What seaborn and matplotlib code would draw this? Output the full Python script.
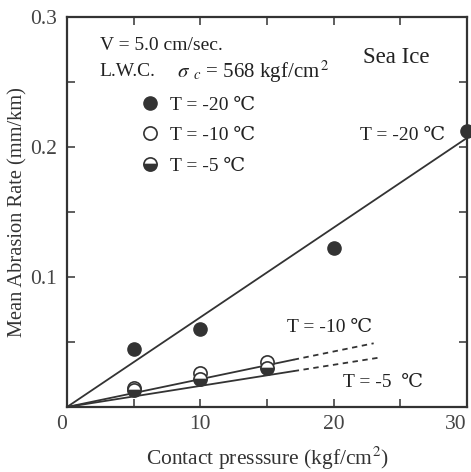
import numpy as np
import pandas as pd
import seaborn as sns
import matplotlib
matplotlib.use("Agg")
import matplotlib.pyplot as plt
from matplotlib.lines import Line2D
from matplotlib.ticker import MultipleLocator

# ---- data ----
p20 = [5, 10, 20, 30]
r20 = [0.045, 0.060, 0.122, 0.212]
p10 = [5, 10, 15]
r10 = [0.015, 0.026, 0.035]
p5 = [5, 10, 15]
r5 = [0.013, 0.0215, 0.030]

# fitted lines (through origin)
fit20_x = [0, 30]
fit20_y = [0, 0.207]
fit10_x = [0, 17, 23]
fit10_y = [0, 0.0364, 0.049]
fit5_x = [0, 17, 23.3]
fit5_y = [0, 0.0276, 0.0378]

xticks = [0, 10, 20, 30]
yticks = [0, 0.1, 0.2, 0.3]
ytick_labels = ["", "0.1", "0.2", "0.3"]

sns.set_theme(style="ticks")
plt.rcParams['font.family'] = ['Liberation Serif', 'DejaVu Serif']
plt.rcParams['mathtext.fontset'] = 'stix'

ink = '#333333'
fig = plt.figure(figsize=(4.71, 4.72), dpi=100)
ax = fig.add_axes([67/471, 1 - 407/472, 400/471, 390/472])

# fit lines
lw = 1.3
dash = (0, (3, 2.5))
sns.lineplot(x=fit20_x, y=fit20_y, ax=ax, color=ink, lw=lw)
sns.lineplot(x=fit10_x[:2], y=fit10_y[:2], ax=ax, color=ink, lw=lw)
sns.lineplot(x=fit10_x[1:], y=fit10_y[1:], ax=ax, color=ink, lw=lw, linestyle=dash)
sns.lineplot(x=fit5_x[:2], y=fit5_y[:2], ax=ax, color=ink, lw=lw)
sns.lineplot(x=fit5_x[1:], y=fit5_y[1:], ax=ax, color=ink, lw=lw, linestyle=dash)

ms = 9.5
ax.plot(p20, r20, linestyle='none', marker='o', ms=ms, color=ink, mec=ink, clip_on=False, zorder=5)
ax.plot(p10, r10, linestyle='none', marker='o', ms=ms, mfc='white', mec=ink, mew=1.2, zorder=5)
ax.plot(p5, r5, linestyle='none', marker='o', ms=ms, fillstyle='bottom', mfc=ink,
        markerfacecoloralt='white', mec=ink, mew=1.2, zorder=5)

ax.set_xlim(0, 30)
ax.set_ylim(0, 0.3)
ax.set_xticks(xticks)
ax.set_yticks(yticks)
ax.set_yticklabels(ytick_labels)
ax.xaxis.set_minor_locator(MultipleLocator(5))
ax.yaxis.set_minor_locator(MultipleLocator(0.05))
ax.tick_params(which='both', direction='in', top=True, right=True, length=6, width=1.1,
               color=ink, labelsize=15.5, labelcolor='#444444')
ax.tick_params(axis='y', pad=7)
ax.tick_params(axis='x', pad=6)
xl = ax.get_xticklabels()
xl[0].set_ha('right')
xl[-1].set_ha('right')
for s in ax.spines.values():
    s.set_linewidth(1.6)
    s.set_color(ink)
ax.set_facecolor('white')

ax.set_xlabel("Contact presssure (kgf/cm$^2$)", fontsize=15.5, color='#333333', labelpad=7.5)
ax.set_ylabel("Mean Abrasion Rate (mm/km)", fontsize=14.7, color='#333333', labelpad=2)

tc = '#222222'
fs = 14
ax.text(2.45, 0.278, "V = 5.0 cm/sec.", fontsize=fs, color=tc, va='center')
ax.text(2.45, 0.258, "L.W.C.", fontsize=fs, color=tc, va='center')
ax.text(8.25, 0.258, r"$\sigma_{\;\;c}$ = 568 kgf/cm$^{\,2}$", fontsize=15, color=tc, va='center')
ax.text(24.7, 0.269, "Sea Ice", fontsize=16.5, color=tc, va='center', ha='center')
ax.text(22.0, 0.2085, "T = -20 \u2103", fontsize=fs, color=tc, va='center')
ax.text(16.5, 0.061, "T = -10 \u2103", fontsize=fs, color=tc, va='center')
ax.text(20.7, 0.019, "T = -5  \u2103", fontsize=fs, color=tc, va='center')

handles = [
    Line2D([], [], linestyle='none', marker='o', ms=ms, color=ink),
    Line2D([], [], linestyle='none', marker='o', ms=ms, mfc='white', mec=ink, mew=1.2),
    Line2D([], [], linestyle='none', marker='o', ms=ms, fillstyle='bottom', mfc=ink,
           markerfacecoloralt='white', mec=ink, mew=1.2),
]
labels = ["T = -20 \u2103", "T = -10 \u2103", "T = -5 \u2103"]
leg = ax.legend(handles, labels, loc='upper left', bbox_to_anchor=(0.1825, 0.797), frameon=False,
                fontsize=fs, handletextpad=0.55, labelspacing=0.66, handlelength=1.0,
                borderaxespad=0, borderpad=0)
for t in leg.get_texts():
    t.set_color(tc)

fig.savefig("out.png", dpi=100, facecolor='white')
